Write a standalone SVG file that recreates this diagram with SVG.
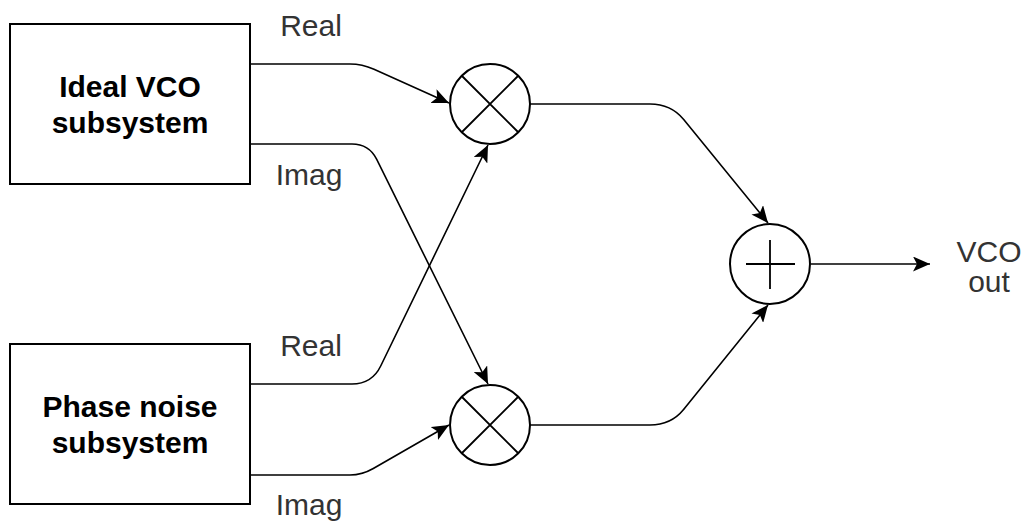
<svg xmlns="http://www.w3.org/2000/svg" width="1026" height="521" viewBox="0 0 1026 521">
<style>
.box{fill:#fff;stroke:#000;stroke-width:2}
.circ{fill:#fff;stroke:#000;stroke-width:2}
.sym{stroke:#000;stroke-width:1.8;fill:none}
.edge{fill:none;stroke:#000;stroke-width:1.6}
.bold{font-family:"Liberation Sans",Arial,sans-serif;font-size:30px;font-weight:bold;fill:#000;text-anchor:middle}
.lbl{font-family:"Liberation Sans",Arial,sans-serif;font-size:30px;fill:#333;text-anchor:middle}
</style>
<defs>
<marker id="arr" markerUnits="userSpaceOnUse" viewBox="0 0 17 15" refX="17" refY="7.5" markerWidth="17" markerHeight="15" orient="auto">
<path d="M0,0 L17,7.5 L0,15 L4,7.5 Z" fill="#000"/>
</marker>
</defs>
<rect width="1026" height="521" fill="#fff"/>
<g id="connectors">
<path class="edge" marker-end="url(#arr)" d="M250,64 H350 Q362,64 374,69.3 L449,103"/>
<path class="edge" marker-end="url(#arr)" d="M250,144 H352 Q369,144 376.6,159.2 L488,384"/>
<path class="edge" marker-end="url(#arr)" d="M250,384 H352 Q372,384 380.7,366 L488,145"/>
<path class="edge" marker-end="url(#arr)" d="M250,475 H350 Q362,475 373.3,468.5 L449,425"/>
<path class="edge" marker-end="url(#arr)" d="M530,104 H650 Q671,104 683.7,119.5 L768,223"/>
<path class="edge" marker-end="url(#arr)" d="M530,425 H650 Q671,425 683.6,409.5 L768,305"/>
<path class="edge" marker-end="url(#arr)" d="M811,264 H930"/>
</g>
<g id="ideal-vco">
<rect class="box" x="10" y="24" width="240" height="160"/>
<text class="bold" x="130" y="97">Ideal VCO</text>
<text class="bold" x="130" y="133">subsystem</text>
</g>
<g id="phase-noise">
<rect class="box" x="10" y="344" width="240" height="160"/>
<text class="bold" x="130" y="417">Phase noise</text>
<text class="bold" x="130" y="453">subsystem</text>
</g>
<g id="mult1">
<circle class="circ" cx="490" cy="104" r="40"/>
<path class="sym" d="M462,76 L518,132 M518,76 L462,132"/>
</g>
<g id="mult2">
<circle class="circ" cx="490" cy="425" r="40"/>
<path class="sym" d="M462,397 L518,453 M518,397 L462,453"/>
</g>
<g id="sum">
<circle class="circ" cx="770" cy="264" r="40"/>
<path class="sym" d="M746,264 H795 M770,240 V289"/>
</g>
<g id="labels">
<text class="lbl" x="311" y="36">Real</text>
<text class="lbl" x="309" y="185">Imag</text>
<text class="lbl" x="311" y="356">Real</text>
<text class="lbl" x="309" y="515">Imag</text>
<text class="lbl" x="989" y="262">VCO</text>
<text class="lbl" x="989" y="292">out</text>
</g>
</svg>
